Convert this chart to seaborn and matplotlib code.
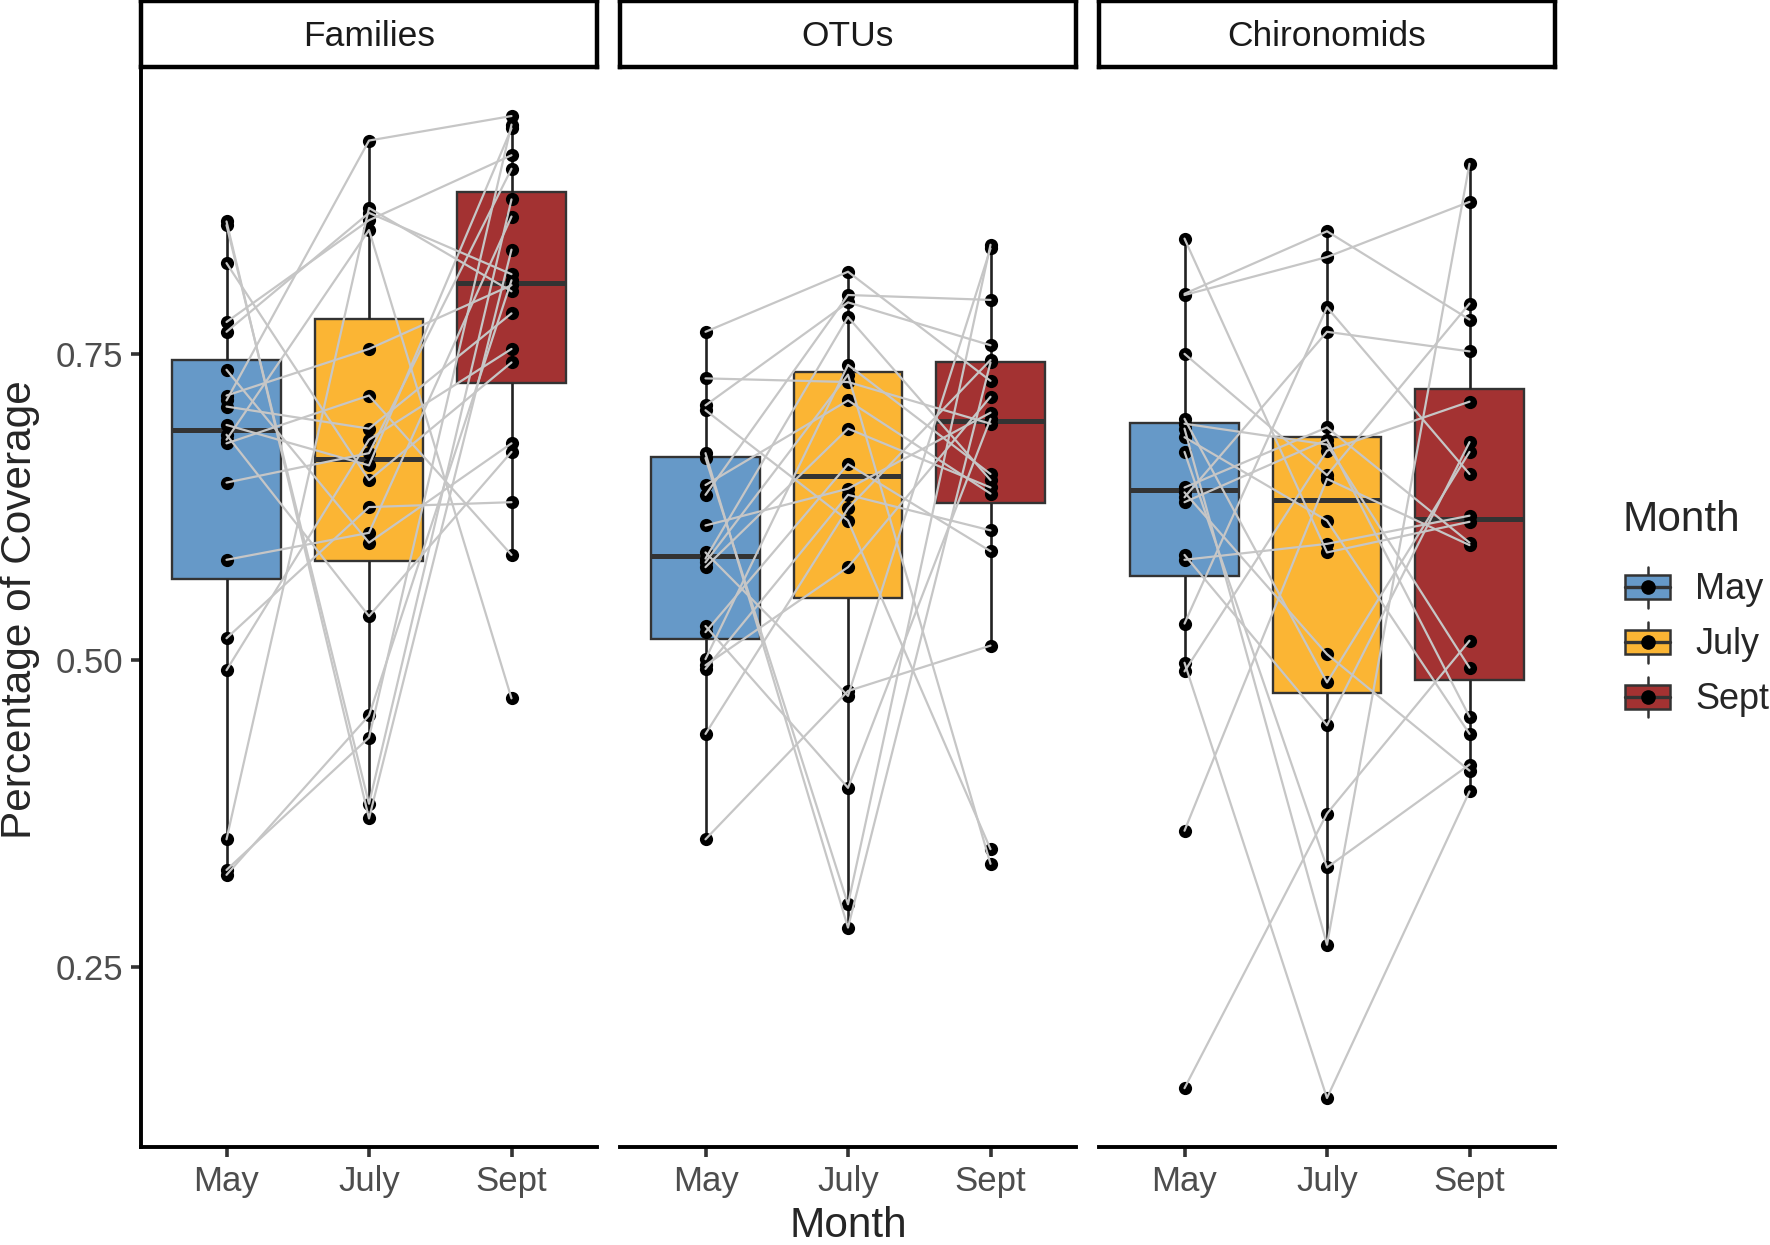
"""Coverage per month, faceted by taxonomic level (boxplots + paired sites)."""

import pandas as pd
import matplotlib
matplotlib.use('Agg')
import matplotlib.pyplot as plt
from matplotlib.patches import Patch, Rectangle
from matplotlib.lines import Line2D
from matplotlib.legend_handler import HandlerBase
import seaborn as sns

months = ['May', 'July', 'Sept']
facets = ['Families', 'OTUs', 'Chironomids']
month_colors = ['#6699C8', '#FBB534', '#A33232']

# values are in site order: position i is the same site in every month
families_may = [0.858, 0.855, 0.824, 0.776, 0.768, 0.737, 0.716, 0.712, 0.707, 0.692,
                0.684, 0.680, 0.677, 0.645, 0.582, 0.518, 0.492, 0.354, 0.329, 0.325]
families_july = [0.371, 0.383, 0.647, 0.859, 0.865, 0.596, 0.754, 0.924, 0.689, 0.659,
                 0.536, 0.851, 0.716, 0.669, 0.604, 0.625, 0.680, 0.869, 0.437, 0.455]
families_sept = [0.835, 0.876, 0.743, 0.912, 0.815, 0.677, 0.806, 0.944, 0.783, 0.934,
                 0.670, 0.469, 0.586, 0.901, 0.862, 0.629, 0.754, 0.801, 0.937, 0.810]

otus_may = [0.768, 0.730, 0.708, 0.704, 0.669, 0.665, 0.643, 0.635, 0.610, 0.588,
            0.583, 0.580, 0.576, 0.528, 0.523, 0.501, 0.496, 0.493, 0.440, 0.354]
otus_july = [0.817, 0.727, 0.792, 0.614, 0.282, 0.301, 0.712, 0.798, 0.640, 0.471,
             0.780, 0.733, 0.689, 0.396, 0.660, 0.741, 0.576, 0.635, 0.624, 0.475]
otus_sept = [0.728, 0.693, 0.757, 0.346, 0.743, 0.839, 0.636, 0.794, 0.702, 0.836,
             0.647, 0.334, 0.641, 0.697, 0.589, 0.652, 0.715, 0.606, 0.745, 0.512]

chiro_may = [0.844, 0.799, 0.798, 0.750, 0.697, 0.693, 0.689, 0.682, 0.670, 0.641,
             0.637, 0.633, 0.629, 0.586, 0.582, 0.530, 0.498, 0.491, 0.361, 0.151]
chiro_july = [0.588, 0.850, 0.829, 0.651, 0.482, 0.676, 0.268, 0.614, 0.331, 0.690,
              0.505, 0.768, 0.680, 0.447, 0.595, 0.788, 0.143, 0.671, 0.648, 0.375]
chiro_sept = [0.613, 0.778, 0.874, 0.791, 0.670, 0.494, 0.905, 0.440, 0.415, 0.596,
              0.410, 0.752, 0.454, 0.678, 0.618, 0.652, 0.393, 0.711, 0.594, 0.516]

facet_values = {
    'Families': [families_may, families_july, families_sept],
    'OTUs': [otus_may, otus_july, otus_sept],
    'Chironomids': [chiro_may, chiro_july, chiro_sept],
}

rows = []
for facet in facets:
    for m_idx, vals in enumerate(facet_values[facet]):
        for site, v in enumerate(vals):
            rows.append({'Facet': facet, 'Month': months[m_idx], 'pos': m_idx,
                         'Site': site, 'Coverage': v})
df = pd.DataFrame(rows)


class BoxKeyHandler(HandlerBase):
    """Legend key that looks like a small boxplot with a point on it."""

    def create_artists(self, legend, orig_handle, xdescent, ydescent,
                       width, height, fontsize, trans):
        fc = orig_handle.get_facecolor()
        cx = -xdescent + width / 2
        cy = -ydescent + height / 2
        bh = height * 0.6
        whisk = Line2D([cx, cx], [-ydescent, -ydescent + height],
                       color='#333333', lw=1.8, transform=trans)
        rect = Rectangle((-xdescent, cy - bh / 2), width, bh, facecolor=fc,
                         edgecolor='#333333', lw=1.8, transform=trans)
        med = Line2D([-xdescent, -xdescent + width], [cy, cy],
                     color='#333333', lw=2.4, transform=trans)
        dot = Line2D([cx], [cy], marker='o', color='black', ms=9.5,
                     linestyle='none', transform=trans)
        return [whisk, rect, med, dot]


sns.set_theme(style='ticks')
plt.rcParams['font.family'] = ['Liberation Sans', 'DejaVu Sans']

W, H = 1770, 1245
fig = plt.figure(figsize=(W / 100, H / 100), dpi=100)

panel_left = [141, 620, 1099]
panel_w = 456
panel_top, panel_bottom = 67, 1147

for i, facet in enumerate(facets):
    sub = df[df['Facet'] == facet]
    ax = fig.add_axes([panel_left[i] / W, 1 - panel_bottom / H,
                       panel_w / W, (panel_bottom - panel_top) / H])

    sns.boxplot(data=sub, x='Month', y='Coverage', hue='Month', order=months,
                hue_order=months, palette=month_colors, saturation=1, width=0.76,
                showfliers=False, showcaps=False, whis=1.5, legend=False,
                linecolor='#333333', linewidth=1.7,
                medianprops={'linewidth': 3.6, 'color': '#333333'},
                whiskerprops={'linewidth': 1.9, 'color': '#222222'}, ax=ax)
    sns.stripplot(data=sub, x='Month', y='Coverage', order=months, jitter=False,
                  color='black', size=9.5, linewidth=0, zorder=3, ax=ax)
    sns.lineplot(data=sub, x='pos', y='Coverage', units='Site', estimator=None,
                 color='#C6C6C6', linewidth=1.6, zorder=4, legend=False, ax=ax)

    ax.set_xlim(-0.6, 2.6)
    ax.set_ylim(0.103, 0.984)
    ax.set_xticks(range(3))
    ax.set_xticklabels(months)
    ax.set_xlabel('')
    ax.set_ylabel('')
    ax.tick_params(axis='both', length=7, width=2.6, color='#333333',
                   labelsize=25, labelcolor='#4D4D4D', pad=6)
    for side in ['top', 'right']:
        ax.spines[side].set_visible(False)
    ax.spines['bottom'].set_linewidth(2.8)
    ax.spines['bottom'].set_color('black')
    if i == 0:
        ax.set_yticks([0.25, 0.50, 0.75])
        ax.set_yticklabels(['0.25', '0.50', '0.75'])
        ax.spines['left'].set_linewidth(2.8)
        ax.spines['left'].set_color('black')
    else:
        ax.spines['left'].set_visible(False)
        ax.set_yticks([])

    # facet strip
    sax = fig.add_axes([panel_left[i] / W, 1 - 67 / H, panel_w / W, 66 / H])
    sax.set_xticks([])
    sax.set_yticks([])
    for sp in sax.spines.values():
        sp.set_linewidth(3.2)
        sp.set_color('black')
    sax.text(0.5, 0.46, facet, ha='center', va='center', fontsize=25.5,
             color='#1A1A1A', transform=sax.transAxes)

fig.text(848 / W, 1 - 1226 / H, 'Month', ha='center', va='center', fontsize=30.5)
fig.text(20 / W, 1 - 610 / H, 'Percentage of Coverage', ha='center', va='center',
         rotation=90, fontsize=30.5)

# legend: title as its own text, keys drawn by the custom handler
fig.text(1622 / W, 1 - 520 / H, 'Month', ha='left', va='center', fontsize=30.5)
handles = [Patch(facecolor=c) for c in month_colors]
fig.legend(handles, months, loc='upper left',
           bbox_to_anchor=(1625 / W, 1 - 567 / H), frameon=False,
           fontsize=26, handlelength=1.25, handleheight=1.35, labelspacing=0.4,
           handletextpad=0.7, borderpad=0, borderaxespad=0,
           handler_map={Patch: BoxKeyHandler()})

plt.savefig('out.png', dpi=100)
plt.close()
